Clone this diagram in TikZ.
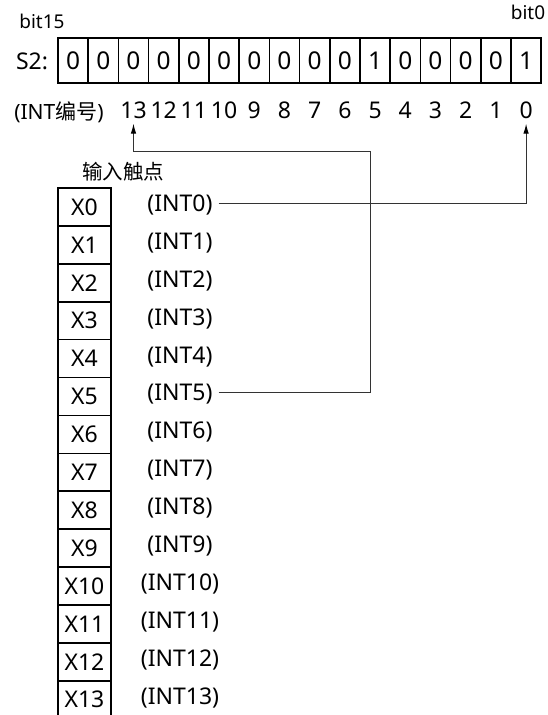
\documentclass[tikz,border=0pt]{standalone}
\usepackage{fontspec}
\setmainfont{Noto Sans}
\newfontfamily\cjk{Noto Sans CJK SC}
\usetikzlibrary{arrows.meta}
\tikzset{
  bitbox/.style={draw, line width=1.6pt, minimum width=30.2pt, minimum height=45pt, inner sep=0pt, font=\fontsize{24.5}{24.5}\selectfont},
  inbox/.style={draw, line width=1.6pt, minimum width=53pt, minimum height=37.9pt, inner sep=0pt, font=\fontsize{23}{23}\selectfont},
  lbl/.style={inner sep=0pt, font=\fontsize{23}{23}\selectfont},
  small/.style={inner sep=0pt, font=\fontsize{19}{19}\selectfont},
  wire/.style={draw=black!80, line width=1pt, -{Latex[length=10pt,width=5.5pt,black]}, shorten >=5pt},
}
\begin{document}
\begin{tikzpicture}[x=1pt,y=-1pt]
\useasboundingbox (0,0) rectangle (547,715);
\clip (0,0) rectangle (547,715);

% register S2
\node[small] (hi) at (42,21) {bit15};
\node[small] (lo) at (528,12) {bit0};
\node[lbl] (s2) at (32,61) {S2:};
\foreach \v [count=\i from 0] in {0,0,0,0,0,0,0,0,0,0,1,0,0,0,0,1} {
  \pgfmathtruncatemacro\b{15-\i}
  \node[bitbox] (b\b) at (73.1+30.2*\i,60.5) {\v};
}

% INT numbers
\node[lbl, font=\fontsize{21}{21}\selectfont] (intno) at (59,112) {(INT{\cjk 编号})};
\foreach \n in {0,...,13}
  \node[lbl] (n\n) at (73.1+30.2*15-30.2*\n,110) {\n};

% input contacts
\node[small, font=\cjk\fontsize{20.5}{20.5}\selectfont] (head) at (123,172) {输入触点};
\foreach \i in {0,...,13} {
  \node[inbox] (x\i) at (84.5,206.95+37.9*\i) {X\i};
  \node[lbl] (int\i) at (180,205+37.9*\i) {(INT\i)};
}

% connections
\coordinate (turn) at (370,151);
\draw[wire] ([xshift=6pt,yshift=2pt]int0.east) -| (n0.south);
\draw[wire] ([xshift=6pt,yshift=2pt]int5.east) -| (turn) -| (n13.south);

\end{tikzpicture}
\end{document}
